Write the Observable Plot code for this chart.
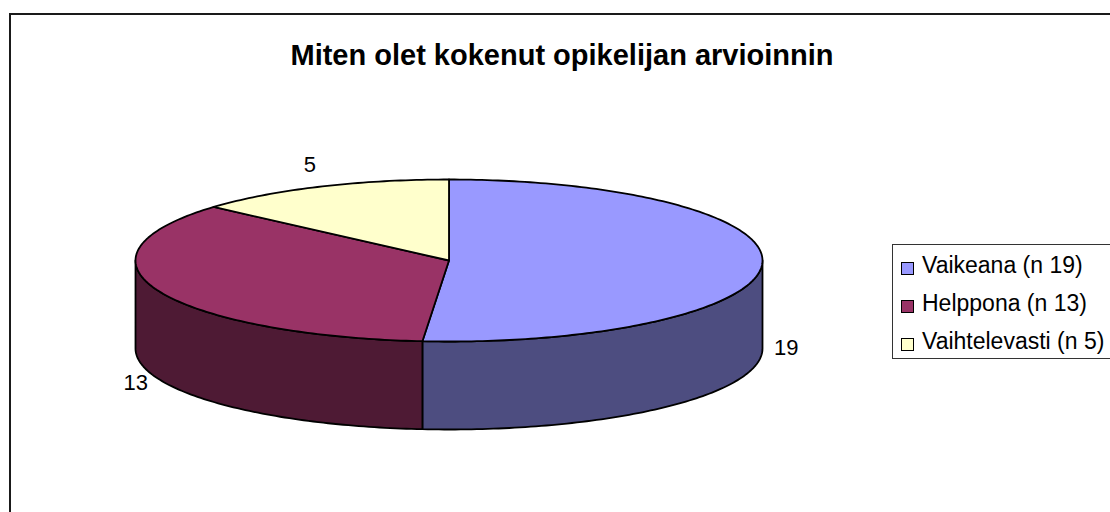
<!DOCTYPE html>
<html>
<head>
<meta charset="utf-8">
<script src="https://cdn.jsdelivr.net/npm/d3@7"></script>
<script src="https://cdn.jsdelivr.net/npm/@observablehq/plot@0.6"></script>
<style>
  html, body { margin: 0; padding: 0; background: #fff; overflow: hidden; }
  body { width: 1110px; height: 512px; position: relative; font-family: "Liberation Sans", Arial, sans-serif; }
  #frame { position: absolute; left: 9px; top: 13px; width: 1200px; height: 600px; border: 2px solid #1a1a1a; box-sizing: border-box; }
  #chart { position: absolute; left: 0; top: 0; }
  #title { position: absolute; left: 0; width: 1124px; top: 39px; text-align: center; font-weight: bold; font-size: 29px; color: #000; white-space: nowrap; }
  #legend { position: absolute; left: 892px; top: 244px; width: 240px; height: 115px; border: 1px solid #333; box-sizing: border-box; background: #fff; padding-top: 1px; }
  .row { height: 38px; display: flex; align-items: center; font-size: 23px; color: #000; white-space: nowrap; }
  .sw { width: 11px; height: 11px; border: 1.5px solid #000; margin-left: 8px; margin-right: 8px; position: relative; top: 3px; flex: none; }
</style>
</head>
<body>
<div id="chart"></div>
<div id="frame"></div>
<div id="title"></div>
<div id="legend"></div>
<script>
// ---- data ----
const title = "Miten olet kokenut opikelijan arvioinnin";
const categories = ["Vaikeana (n 19)", "Helppona (n 13)", "Vaihtelevasti (n 5)"];
const values = [19, 13, 5];
const valueLabels = ["19", "13", "5"];
const topColors = ["#9999FF", "#993366", "#FFFFCC"];
const sideColors = ["#4D4D80", "#4E1A34", "#80806A"];

// ---- geometry (pixel space) ----
const W = 1110, H = 512;
const cx = 448.5, cy = 260, rx = 313.5, ry = 81, depth = 88;

const total = d3.sum(values);
let acc = 0;
const slices = values.map((v, i) => {
  const a0 = acc / total * 360; acc += v; const a1 = acc / total * 360;
  return {i, v, a0, a1, mid: (a0 + a1) / 2};
});
const pt = (deg, dz = 0) => {
  const r = deg * Math.PI / 180;
  return {x: cx + rx * Math.sin(r), y: cy - ry * Math.cos(r) + dz};
};
function arc(a0, a1, dz) {
  const n = Math.max(2, Math.ceil(a1 - a0));
  return d3.range(n + 1).map(k => pt(a0 + (a1 - a0) * k / n, dz));
}

const sideFaces = [];
slices.forEach(s => {
  const lo = Math.max(s.a0, 90), hi = Math.min(s.a1, 270);
  if (lo < hi) sideFaces.push({color: sideColors[s.i], pts: [...arc(lo, hi, 0), ...arc(lo, hi, depth).reverse()]});
});
const topFaces = slices.map(s => ({color: topColors[s.i], pts: [{x: cx, y: cy}, ...arc(s.a0, s.a1, 0)]}));

const off = 24;
const labels = slices.map(s => {
  const r = s.mid * Math.PI / 180;
  const p = pt(s.mid, Math.cos(r) < 0 ? depth - 5 : 0);
  return {x: p.x + off * Math.sin(r), y: p.y - off * Math.cos(r), text: valueLabels[s.i]};
});

const faceMark = f => Plot.line(f.pts, {x: "x", y: "y", fill: f.color, stroke: "#000", strokeWidth: 1.8, strokeLinejoin: "round", curve: "linear-closed"});

const plot = Plot.plot({
  width: W, height: H, margin: 0,
  style: {background: "transparent", fontFamily: "'Liberation Sans', Arial, sans-serif"},
  x: {domain: [0, W], range: [0, W], axis: null},
  y: {domain: [0, H], range: [0, H], axis: null},
  marks: [
    ...sideFaces.map(faceMark),
    ...topFaces.map(faceMark),
    Plot.text(labels, {x: "x", y: "y", text: "text", fontSize: 22, fill: "#000", textAnchor: "middle"})
  ]
});
document.getElementById("chart").appendChild(plot);

document.getElementById("title").textContent = title;
const legend = document.getElementById("legend");
categories.forEach((c, i) => {
  const row = document.createElement("div");
  row.className = "row";
  const sw = document.createElement("span");
  sw.className = "sw";
  sw.style.background = topColors[i];
  const t = document.createElement("span");
  t.textContent = c;
  row.appendChild(sw); row.appendChild(t);
  legend.appendChild(row);
});
</script>
</body>
</html>
